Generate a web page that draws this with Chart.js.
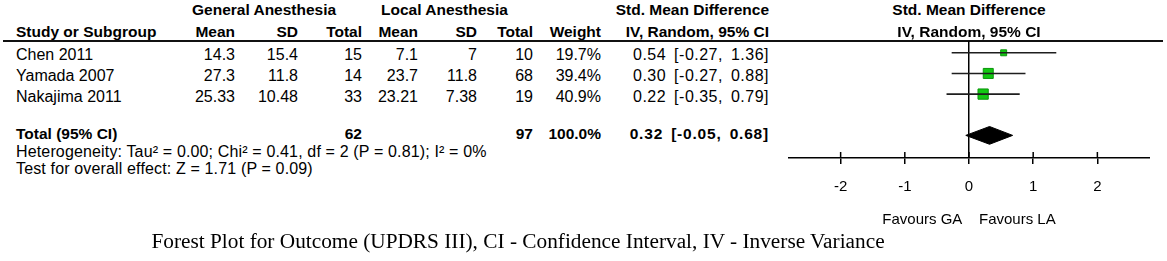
<!DOCTYPE html>
<html>
<head>
<meta charset="utf-8">
<script src="https://cdn.jsdelivr.net/npm/chart.js@4.4.0/dist/chart.umd.min.js"></script>
<style>
  html, body { margin: 0; padding: 0; background: #fff; }
  #wrap { position: relative; width: 1167px; height: 261px; overflow: hidden; font-family: "Liberation Sans", Arial, sans-serif; color: #000; }
  .t { position: absolute; white-space: nowrap; font-size: 16px; line-height: 20px; }
  .b { font-weight: bold; font-size: 15.5px; }
  .s { font-size: 16px; letter-spacing: 0.15px; }
  .ci { letter-spacing: 0.5px; word-spacing: 3px; }
  .b.ci { letter-spacing: 0.8px; }
  #hline { position: absolute; left: 3px; top: 40px; width: 1160px; height: 2px; background: #111; }
  #plot { position: absolute; left: 788px; top: 41px; }
  #caption { position: absolute; left: 518px; top: 228px; transform: translateX(-50%); white-space: nowrap;
             font-family: "Liberation Serif", "Times New Roman", serif; font-size: 21.3px; line-height: 26px; }
</style>
</head>
<body>
<div id="wrap">
  <div id="hline"></div>
  <canvas id="plot" width="362" height="192"></canvas>
  <div id="caption">Forest Plot for Outcome (UPDRS III), CI - Confidence Interval, IV - Inverse Variance</div>
</div>
<script>
// verileri
var studies = ["Chen 2011", "Yamada 2007", "Nakajima 2011"];
var gaMean = [14.3, 27.3, 25.33];
var gaSd = [15.4, 11.8, 10.48];
var gaTotal = [15, 14, 33];
var laMean = [7.1, 23.7, 23.21];
var laSd = [7, 11.8, 7.38];
var laTotal = [10, 68, 19];
var weights = [19.7, 39.4, 40.9];
var smd = [0.54, 0.30, 0.22];
var ciLow = [-0.27, -0.27, -0.35];
var ciHigh = [1.36, 0.88, 0.79];

var pooled = [0.32];
var pooledLow = [-0.05];
var pooledHigh = [0.68];
var groupTotals = [62, 97];
var totalWeight = [100.0];

var xTicks = [-2, -1, 0, 1, 2];
var heterogeneity = "Heterogeneity: Tau\u00b2 = 0.00; Chi\u00b2 = 0.41, df = 2 (P = 0.81); I\u00b2 = 0%";
var overallEffect = "Test for overall effect: Z = 1.71 (P = 0.09)";

var wrap = document.getElementById("wrap");
var colRight = [235, 298, 362, 418, 477, 533, 601, 769];

function yaz(s, x, y, align, cls) {
  var d = document.createElement("div");
  d.className = "t " + (cls || "");
  d.textContent = s;
  if (align === "right") {
    d.style.right = (1167 - x) + "px";
  } else if (align === "center") {
    d.style.left = x + "px";
    d.style.transform = "translateX(-50%)";
  } else {
    d.style.left = x + "px";
  }
  d.style.top = (y - 10) + "px";
  wrap.appendChild(d);
}

function ciText(m, lo, hi) {
  return m.toFixed(2) + " [" + lo.toFixed(2) + ", " + hi.toFixed(2) + "]";
}

/* BASLIKLAR */
yaz("General Anesthesia", 192, 10, "left", "b");
yaz("Local Anesthesia", 381, 10, "left", "b");
yaz("Std. Mean Difference", 769, 10, "right", "b");
yaz("Std. Mean Difference", 969, 10, "center", "b");
yaz("Study or Subgroup", 16, 32, "left", "b");
var heads = ["Mean", "SD", "Total", "Mean", "SD", "Total", "Weight", "IV, Random, 95% CI"];
for (var h = 0; h < heads.length; h++) {
  yaz(heads[h], colRight[h], 32, "right", "b");
}
yaz("IV, Random, 95% CI", 969, 32, "center", "b");

/* SATIRLAR */
var rowTop = 55, rowStep = 21.2;
for (var i = 0; i < studies.length; i++) {
  var y = rowTop + i * rowStep;
  yaz(studies[i], 16, y, "left");
  var vals = [gaMean[i], gaSd[i], gaTotal[i], laMean[i], laSd[i], laTotal[i], weights[i].toFixed(1) + "%"];
  for (var k = 0; k < vals.length; k++) {
    yaz(String(vals[k]), colRight[k], y, "right");
  }
  yaz(ciText(smd[i], ciLow[i], ciHigh[i]), colRight[7], y, "right", "ci");
}

/* TOPLAM */
yaz("Total (95% CI)", 16, 134, "left", "b");
yaz(String(groupTotals[0]), colRight[2], 134, "right", "b");
yaz(String(groupTotals[1]), colRight[5], 134, "right", "b");
yaz(totalWeight[0].toFixed(1) + "%", colRight[6], 134, "right", "b");
yaz(ciText(pooled[0], pooledLow[0], pooledHigh[0]), colRight[7], 134, "right", "b ci");
yaz(heterogeneity, 16, 151.5, "left", "s");
yaz(overallEffect, 16, 168.5, "left", "s");

/* GRAFIK */
var totalRow = studies.length + 1;
var diamondHalf = 0.43;
var fontSpec = { family: "'Liberation Sans', Arial, sans-serif", size: 15 };

var datasets = [];
for (var j = 0; j < studies.length; j++) {
  datasets.push({
    label: studies[j] + " CI",
    data: [{ x: ciLow[j], y: j }, { x: ciHigh[j], y: j }],
    showLine: true,
    borderColor: "#1e1e1e",
    borderWidth: 1.6,
    pointRadius: 0
  });
}
datasets.push({
  label: "SMD",
  data: studies.map(function (s, i) { return { x: smd[i], y: i }; }),
  pointStyle: "rect",
  pointRadius: function (c) {
    var side = 2.2 * Math.sqrt(weights[c.dataIndex]) - 3.8;
    return side / Math.SQRT2;
  },
  backgroundColor: "#12c812",
  borderColor: "#0b960b",
  borderWidth: 1
});
datasets.push({
  label: "Total",
  data: [
    { x: pooledLow[0], y: totalRow },
    { x: pooled[0], y: totalRow - diamondHalf },
    { x: pooledHigh[0], y: totalRow },
    { x: pooled[0], y: totalRow + diamondHalf },
    { x: pooledLow[0], y: totalRow }
  ],
  showLine: true,
  fill: "shape",
  backgroundColor: "#000",
  borderColor: "#000",
  borderWidth: 1,
  pointRadius: 0
});

var tickMarks = {
  id: "tickMarks",
  afterDraw: function (chart) {
    var xs = chart.scales.x;
    var c = chart.ctx;
    c.save();
    c.strokeStyle = "#000";
    c.lineWidth = 1.5;
    xs.ticks.forEach(function (t) {
      var px = xs.getPixelForValue(t.value);
      c.beginPath();
      c.moveTo(px, xs.top - 6);
      c.lineTo(px, xs.top);
      c.stroke();
    });
    c.restore();
  }
};

var ctx = document.getElementById("plot");
var myChart = new Chart(ctx, {
  type: "scatter",
  data: { datasets: datasets },
  options: {
    responsive: false,
    maintainAspectRatio: false,
    animation: false,
    layout: { padding: 0, autoPadding: false },
    plugins: { legend: { display: false }, tooltip: { enabled: false } },
    scales: {
      x: {
        type: "linear",
        min: -2.82,
        max: 2.82,
        afterBuildTicks: function (ax) {
          ax.ticks = xTicks.map(function (v) { return { value: v }; });
        },
        ticks: { font: fontSpec, color: "#000", padding: 14 },
        grid: {
          color: function (c) { return c.tick && c.tick.value === 0 ? "#000" : "rgba(0,0,0,0)"; },
          lineWidth: 1.5,
          tickColor: "#000",
          tickWidth: 1.5,
          tickLength: 6
        },
        border: { display: true, color: "#000", width: 1.5 },
        title: {
          display: true,
          text: "Favours GA\u00a0\u00a0\u00a0 Favours LA",
          font: fontSpec,
          color: "#000",
          padding: { top: 1, bottom: 4 }
        }
      },
      y: { type: "linear", reverse: true, min: -0.571, max: 5.095, display: false }
    }
  },
  plugins: [tickMarks]
});
</script>
</body>
</html>
